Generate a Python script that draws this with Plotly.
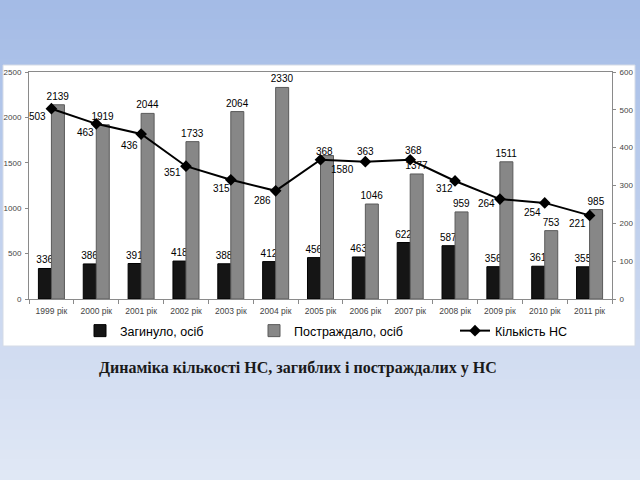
import plotly.graph_objects as go

years = ["1999 рік", "2000 рік", "2001 рік", "2002 рік", "2003 рік", "2004 рік", "2005 рік",
         "2006 рік", "2007 рік", "2008 рік", "2009 рік", "2010 рік", "2011 рік"]
killed = [336, 386, 391, 418, 388, 412, 456, 463, 622, 587, 356, 361, 355]
injured = [2139, 1919, 2044, 1733, 2064, 2330, 1580, 1046, 1377, 959, 1511, 753, 985]
accidents = [503, 463, 436, 351, 315, 286, 368, 363, 368, 312, 264, 254, 221]

# label offsets for line labels (px): (xshift, yshift)
acc_shift = [(-14, -8), (-11, -9), (-12, -11), (-13, -6), (-9, -9), (-13, -10), (4, 8),
             (0, 10), (3, 9), (-11, -8), (-13, -4), (-12, -10), (-12, -8)]

W, H = 640, 480
ML, MR, MT, MB = 29, 28, 72, 181
PW, PH = W - ML - MR, H - MT - MB


def px2x(px):
    return (px - ML) / PW


def px2y(py):
    return (H - MB - py) / PH


FONT = "Liberation Sans, Arial, sans-serif"

fig = go.Figure()

inj_pos = ["outside"] * len(injured)
inj_pos[6] = "none"

fig.add_trace(go.Bar(
    x=years, y=killed, name="Загинуло, осіб",
    marker=dict(color="#151515", line=dict(color="#000000", width=1)),
    text=[str(v) for v in killed], textposition="outside",
    textfont=dict(family=FONT, size=10, color="#000"),
    constraintext="none", cliponaxis=False, legend="legend",
))
fig.add_trace(go.Bar(
    x=years, y=injured, name="Постраждало, осіб",
    marker=dict(color="#878787", line=dict(color="#5a5a5a", width=1)),
    text=[str(v) for v in injured], textposition=inj_pos,
    textfont=dict(family=FONT, size=10, color="#000"),
    constraintext="none", cliponaxis=False, legend="legend2",
))
fig.add_trace(go.Scatter(
    x=years, y=accidents, name="Кількість НС", yaxis="y2", mode="lines+markers",
    line=dict(color="#000000", width=2),
    marker=dict(symbol="diamond", size=9, color="#000000"),
    cliponaxis=False, legend="legend3",
))

annotations = []
for yr, v, (dx, dy) in zip(years, accidents, acc_shift):
    annotations.append(dict(x=yr, y=v, yref="y2", text=str(v), showarrow=False,
                            xshift=dx, yshift=dy,
                            font=dict(family=FONT, size=10, color="#000")))
# displaced label of 2005 injured bar
annotations.append(dict(x=years[6], y=injured[6], text=str(injured[6]), showarrow=False,
                        xshift=22, yshift=-14, font=dict(family=FONT, size=10, color="#000")))
annotations.append(dict(xref="paper", yref="paper", x=px2x(97), y=px2y(368),
                        xanchor="left", yanchor="middle", showarrow=False,
                        text="<b>Динаміка кількості НС, загиблих і постраждалих у НС</b>",
                        font=dict(family="Liberation Serif, Times New Roman, serif", size=16,
                                  color="#1a1a1a")))

shapes = []
top = (163, 187, 230)
bot = (225, 232, 245)
N = 48
for i in range(N):
    t = (i + 0.5) / N
    c = tuple(round(top[k] + (bot[k] - top[k]) * t) for k in range(3))
    shapes.append(dict(type="rect", xref="paper", yref="paper", layer="below",
                       x0=px2x(-2), x1=px2x(W + 2), y0=px2y(i * H / N - 0.5),
                       y1=px2y((i + 1) * H / N + 0.5),
                       fillcolor="rgb(%d,%d,%d)" % c, line=dict(width=0)))
shapes.append(dict(type="rect", xref="paper", yref="paper", layer="below",
                   x0=px2x(3), x1=px2x(635), y0=px2y(65), y1=px2y(346),
                   fillcolor="#ffffff", line=dict(color="#d5dbe6", width=1)))

axcol = "#8a8a8a"
tickfont = dict(family=FONT, size=8, color="#444")

leg_common = dict(orientation="h", yanchor="middle", y=px2y(331), xanchor="left",
                  bgcolor="rgba(0,0,0,0)", font=dict(family=FONT, size=12.5, color="#000"))

fig.update_layout(
    width=W, height=H, autosize=False,
    margin=dict(l=ML, r=MR, t=MT, b=MB, pad=0, autoexpand=False),
    paper_bgcolor="rgb(200,212,238)", plot_bgcolor="rgba(0,0,0,0)",
    barmode="group", bargap=0.42, bargroupgap=0,
    xaxis=dict(type="category", range=[-0.5, len(years) - 0.5], showline=True,
               linecolor=axcol, linewidth=1, mirror=True, automargin=False,
               ticks="outside", ticklen=4, tickcolor=axcol, tickson="boundaries",
               tickfont=dict(family=FONT, size=8.5, color="#444"), showgrid=False,
               ticklabelstandoff=4),
    yaxis=dict(range=[0, 2500], dtick=500, showline=True, linecolor=axcol, ticks="outside",
               ticklen=3, tickcolor=axcol, tickfont=tickfont, showgrid=False, zeroline=False,
               ticklabelstandoff=2, automargin=False),
    yaxis2=dict(range=[0, 600], dtick=100, overlaying="y", side="right", showline=True,
                linecolor=axcol, ticks="outside", ticklen=3, tickcolor=axcol,
                tickfont=tickfont, showgrid=False, zeroline=False, ticklabelstandoff=2,
                automargin=False),
    legend=dict(x=px2x(80), **leg_common),
    legend2=dict(x=px2x(254), **leg_common),
    legend3=dict(x=px2x(455), **leg_common),
    annotations=annotations,
    shapes=shapes,
    showlegend=True,
)

fig.write_html("out.html")
